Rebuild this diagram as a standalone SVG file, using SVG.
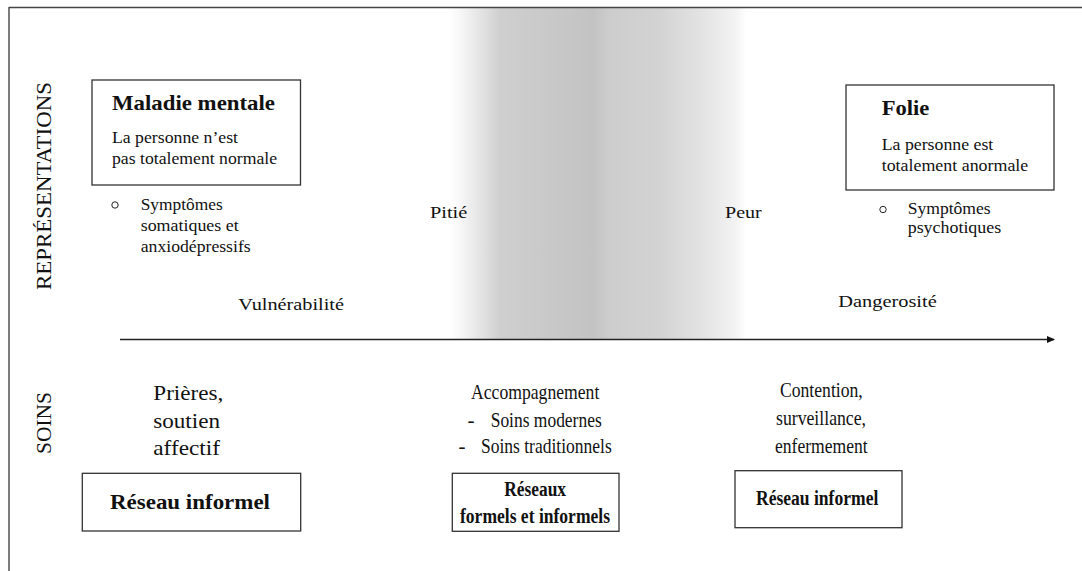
<svg xmlns="http://www.w3.org/2000/svg" width="1082" height="571" viewBox="0 0 1082 571">
<style>
  text { font-family: "Liberation Serif", "Times New Roman", serif; fill: #111; }
  .b { font-weight: bold; }
  .box { fill: #fff; stroke: #333; stroke-width: 1.3; }
  .frame { stroke: #444; stroke-width: 1.4; fill: none; }
  .t16 { font-size: 16.5px; }
  .t17 { font-size: 17.5px; }
  .t21 { font-size: 21px; }
  .t22 { font-size: 22px; }
</style>
<defs>
  <linearGradient id="shade" x1="0" y1="0" x2="1" y2="0">
    <stop offset="0" stop-color="#ffffff"/>
    <stop offset="0.05" stop-color="#f3f3f3"/>
    <stop offset="0.136" stop-color="#dadada"/>
    <stop offset="0.17" stop-color="#cfcfcf"/>
    <stop offset="0.485" stop-color="#c3c3c3"/>
    <stop offset="0.54" stop-color="#cdcdcd"/>
    <stop offset="0.71" stop-color="#d3d3d3"/>
    <stop offset="0.85" stop-color="#e3e3e3"/>
    <stop offset="0.966" stop-color="#f3f3f3"/>
    <stop offset="1" stop-color="#ffffff"/>
  </linearGradient>
  <marker id="arrow" markerWidth="8" markerHeight="8" refX="7" refY="4" orient="auto" markerUnits="userSpaceOnUse">
    <path d="M0,0.5 L8,4 L0,7.5 Z" fill="#111"/>
  </marker>
</defs>

<rect x="0" y="0" width="1082" height="571" fill="#fff"/>
<rect x="450" y="7.5" width="296" height="331.5" fill="url(#shade)"/>

<g id="frame">
  <line class="frame" x1="9" y1="7.5" x2="1082" y2="7.5"/>
  <line class="frame" x1="9" y1="7" x2="9" y2="571"/>
</g>

<g id="axis-labels">
  <text class="t22" transform="translate(51,290) rotate(-90)" textLength="208" lengthAdjust="spacingAndGlyphs">REPRÉSENTATIONS</text>
  <text class="t22" transform="translate(51,454) rotate(-90)" textLength="62" lengthAdjust="spacingAndGlyphs">SOINS</text>
</g>

<g id="connectors">
  <line x1="120" y1="339.5" x2="1054" y2="339.5" stroke="#222" stroke-width="1.4" marker-end="url(#arrow)"/>
</g>

<g id="maladie-mentale">
  <rect class="box" x="92" y="80" width="208.5" height="105"/>
  <text class="b t22" x="112" y="110" textLength="163" lengthAdjust="spacingAndGlyphs">Maladie mentale</text>
  <text class="t17" x="112" y="143" textLength="126" lengthAdjust="spacingAndGlyphs">La personne n’est</text>
  <text class="t17" x="112" y="164" textLength="165" lengthAdjust="spacingAndGlyphs">pas totalement normale</text>
</g>

<g id="symptomes-gauche">
  <circle cx="115" cy="205" r="3.2" fill="none" stroke="#222" stroke-width="1"/>
  <text class="t17" x="140.7" y="210" textLength="82" lengthAdjust="spacingAndGlyphs">Symptômes</text>
  <text class="t17" x="140.7" y="231" textLength="98" lengthAdjust="spacingAndGlyphs">somatiques et</text>
  <text class="t17" x="140.7" y="251.5" textLength="110" lengthAdjust="spacingAndGlyphs">anxiodépressifs</text>
</g>

<g id="folie">
  <rect class="box" x="846" y="85" width="208" height="105"/>
  <text class="b t22" x="881.7" y="115" textLength="47.6" lengthAdjust="spacingAndGlyphs">Folie</text>
  <text class="t17" x="881.7" y="150" textLength="111.6" lengthAdjust="spacingAndGlyphs">La personne est</text>
  <text class="t17" x="881.7" y="171" textLength="146.6" lengthAdjust="spacingAndGlyphs">totalement anormale</text>
</g>

<g id="symptomes-droite">
  <circle cx="883" cy="209.5" r="3.2" fill="none" stroke="#222" stroke-width="1"/>
  <text class="t16" x="907.7" y="214" textLength="83" lengthAdjust="spacingAndGlyphs">Symptômes</text>
  <text class="t16" x="907.7" y="232.5" textLength="93.5" lengthAdjust="spacingAndGlyphs">psychotiques</text>
</g>

<g id="emotions">
  <text class="t17" x="430" y="218" textLength="37.3" lengthAdjust="spacingAndGlyphs">Pitié</text>
  <text class="t17" x="725" y="218" textLength="36.7" lengthAdjust="spacingAndGlyphs">Peur</text>
  <text class="t17" x="238.3" y="310" textLength="105.7" lengthAdjust="spacingAndGlyphs">Vulnérabilité</text>
  <text class="t17" x="838.3" y="306.7" textLength="98.4" lengthAdjust="spacingAndGlyphs">Dangerosité</text>
</g>

<g id="soins-gauche">
  <text class="t21" x="153.3" y="400" textLength="70" lengthAdjust="spacingAndGlyphs">Prières,</text>
  <text class="t21" x="153.3" y="428.3" textLength="66.7" lengthAdjust="spacingAndGlyphs">soutien</text>
  <text class="t21" x="153.3" y="455" textLength="66.7" lengthAdjust="spacingAndGlyphs">affectif</text>
</g>

<g id="soins-milieu">
  <text class="t21" x="471" y="399" textLength="128.3" lengthAdjust="spacingAndGlyphs">Accompagnement</text>
  <text class="t21" x="467.5" y="426.7">-</text>
  <text class="t21" x="490.7" y="426.7" textLength="111" lengthAdjust="spacingAndGlyphs">Soins modernes</text>
  <text class="t21" x="458.5" y="453">-</text>
  <text class="t21" x="481" y="453" textLength="130.7" lengthAdjust="spacingAndGlyphs">Soins traditionnels</text>
</g>

<g id="soins-droite">
  <text class="t21" x="780" y="397" textLength="82.7" lengthAdjust="spacingAndGlyphs">Contention,</text>
  <text class="t21" x="776" y="425" textLength="90" lengthAdjust="spacingAndGlyphs">surveillance,</text>
  <text class="t21" x="775" y="452.7" textLength="92.7" lengthAdjust="spacingAndGlyphs">enfermement</text>
</g>

<g id="reseau-informel-gauche">
  <rect class="box" x="82.3" y="473.3" width="218.4" height="57.7"/>
  <text class="b" style="font-size:22px" x="110" y="509.3" textLength="160" lengthAdjust="spacingAndGlyphs">Réseau informel</text>
</g>

<g id="reseaux-formels-informels">
  <rect class="box" x="452.3" y="473.3" width="166.7" height="58"/>
  <text class="b" style="font-size:20px" x="504.3" y="495.7" textLength="61.7" lengthAdjust="spacingAndGlyphs">Réseaux</text>
  <text class="b" style="font-size:20px" x="460" y="522.7" textLength="150" lengthAdjust="spacingAndGlyphs">formels et informels</text>
</g>

<g id="reseau-informel-droite">
  <rect class="box" x="735" y="470.7" width="167" height="57"/>
  <text class="b" style="font-size:20px" x="756" y="505" textLength="122.3" lengthAdjust="spacingAndGlyphs">Réseau informel</text>
</g>
</svg>
